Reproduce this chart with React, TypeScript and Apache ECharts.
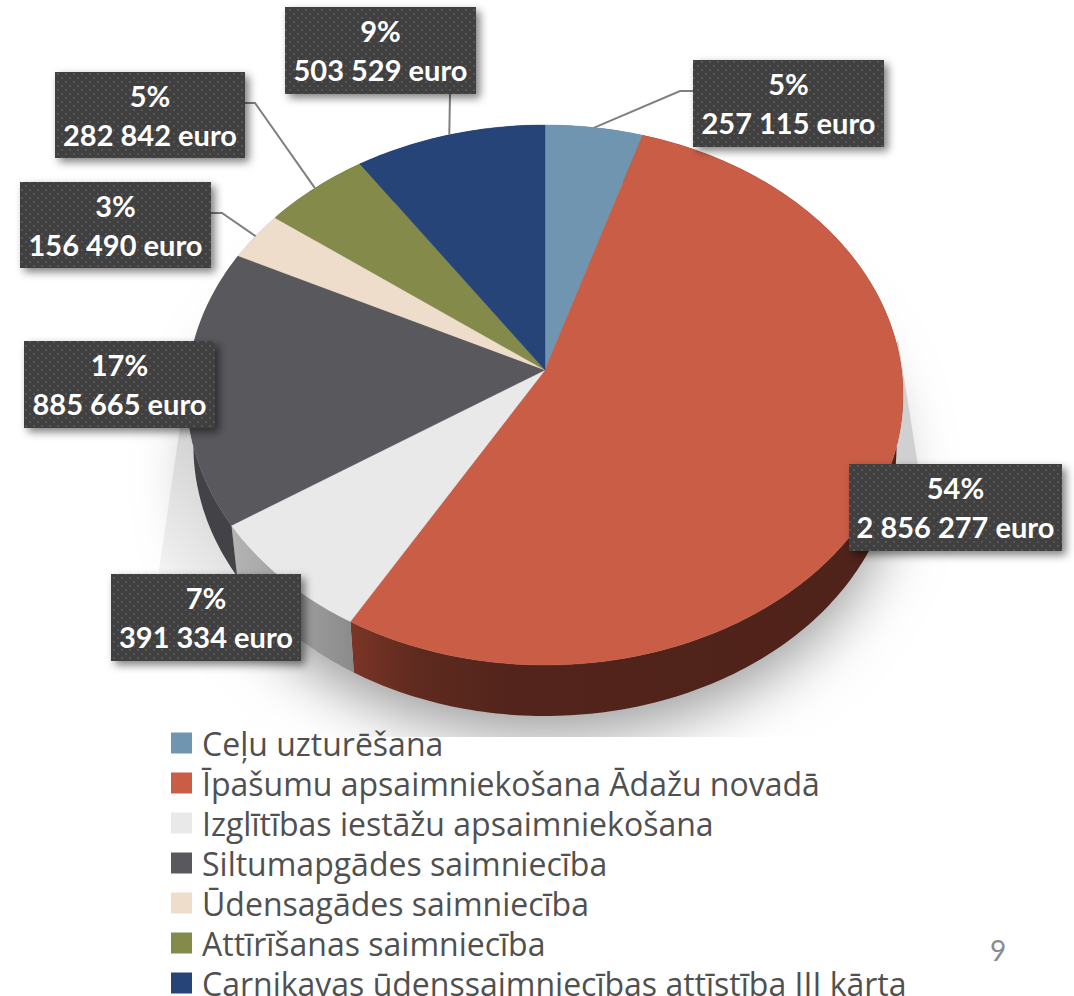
import React, { useEffect, useRef } from "react";
import * as echarts from "echarts";

const categories = [
  "Ceļu uzturēšana",
  "Īpašumu apsaimniekošana Ādažu novadā",
  "Izglītības iestāžu apsaimniekošana",
  "Siltumapgādes saimniecība",
  "Ūdensagādes saimniecība",
  "Attīrīšanas saimniecība",
  "Carnikavas ūdenssaimniecības attīstība III kārta",
];
const values = [257115, 2856277, 391334, 885665, 156490, 282842, 503529];
const percentLabels = ["5%", "54%", "7%", "17%", "3%", "5%", "9%"];
const valueLabels = [
  "257 115 euro",
  "2 856 277 euro",
  "391 334 euro",
  "885 665 euro",
  "156 490 euro",
  "282 842 euro",
  "503 529 euro",
];
const topColors = ["#7095B0", "#C95D46", "#E9E9E9", "#58585D", "#EFDDCC", "#838A4A", "#264478"];
const wallColors: any[] = [
  "#4f6a7e",
  ["#7B3526", "#5F2A1F", "#52241B", "#4F221A"],
  ["#B4B4B4", "#8B8B8B"],
  "#434347",
  "#a89a8e",
  "#5c6134",
  "#192e53",
];
// label box layout
const boxLayout: any[] = [
  { x: 693, y: 60, w: 191, h: 87, from: [693, 91], elbow: [680, 91] },
  { x: 849, y: 464, w: 213, h: 87, from: null, elbow: null },
  { x: 111, y: 574, w: 190, h: 87, from: null, elbow: null },
  { x: 24, y: 341, w: 191, h: 87, from: null, elbow: null },
  { x: 20, y: 182, w: 191, h: 86, from: [211, 213], elbow: [222, 213] },
  { x: 55, y: 72, w: 190, h: 86, from: [245, 103], elbow: [255, 103] },
  { x: 285, y: 7, w: 191, h: 87, from: [450, 94], elbow: null },
];

const CX = 545;
const CY = 370;
const K = -50 / 540;
const A = 245 * (1 - K);
const B = 358 * Math.sqrt(1 - K * K);
const DEPTH = 51;
const SHRINK = 0.982;
const total = values.reduce((s, v) => s + v, 0);

function project(deg: number): [number, number] {
  const t = (deg * Math.PI) / 180;
  const X = Math.sin(t);
  const Y = -Math.cos(t);
  const d = 1 + K * Y;
  return [CX + (B * X) / d, CY + (A * Y) / d];
}

function dotPattern() {
  const c = document.createElement("canvas");
  c.width = 8;
  c.height = 8;
  const g = c.getContext("2d")!;
  g.fillStyle = "#3f3f3f";
  g.fillRect(0, 0, 8, 8);
  g.fillStyle = "#565656";
  g.fillRect(1, 1, 2, 2);
  g.fillRect(5, 5, 2, 2);
  return c;
}

export default function App() {
  const ref = useRef<HTMLDivElement>(null);
  useEffect(() => {
    const chart = echarts.init(ref.current!, undefined, { renderer: "svg" });
    const pattern = { image: dotPattern(), repeat: "repeat" };
    let acc = 0;
    const series = categories.map((name, i) => {
      const a0 = (acc / total) * 360;
      acc += values[i];
      const a1 = (acc / total) * 360;
      const steps = Math.max(2, Math.ceil(a1 - a0));
      const rim: [number, number][] = [];
      for (let s = 0; s <= steps; s++) rim.push(project(a0 + ((a1 - a0) * s) / steps));
      const low = rim.map(([x, y]) => [CX + (x - CX) * SHRINK, y + DEPTH]);
      const wc = wallColors[i];
      const wallFill = Array.isArray(wc)
        ? {
            type: "linear",
            x: 0,
            y: 0,
            x2: 1,
            y2: 0,
            colorStops: wc.map((color: string, k: number) => ({
              offset: wc.length === 2 ? k : [0, 0.12, 0.3, 1][k],
              color,
            })),
          }
        : wc;
      const box = boxLayout[i];
      const end = project((a0 + a1) / 2);
      return {
        type: "custom",
        name,
        coordinateSystem: "none",
        silent: true,
        data: [values[i]],
        itemStyle: { color: topColors[i] },
        renderItem: () => {
          const children: any[] = [
            {
              type: "polygon",
              z2: 1,
              shape: { points: [...rim, ...[...low].reverse()] },
              style: { fill: wallFill, stroke: null },
            },
            {
              type: "polygon",
              z2: 10,
              shape: { points: [[CX, CY], ...rim] },
              style: { fill: topColors[i], stroke: topColors[i], lineWidth: 0.4 },
            },
          ];
          if (box.from) {
            const pts = box.elbow ? [box.from, box.elbow, end] : [box.from, end];
            children.push({
              type: "polyline",
              z2: 20,
              shape: { points: pts },
              style: { fill: null, stroke: "#7f7f7f", lineWidth: 2 },
            });
          }
          children.push({
            type: "rect",
            z2: 30,
            shape: { x: box.x, y: box.y, width: box.w, height: box.h },
            style: {
              fill: pattern,
              shadowBlur: 8,
              shadowColor: "rgba(0,0,0,0.5)",
              shadowOffsetX: 4,
              shadowOffsetY: 4,
            },
          });
          [percentLabels[i], valueLabels[i]].forEach((text, k) => {
            children.push({
              type: "text",
              z2: 40,
              style: {
                x: box.x + box.w / 2,
                y: box.y + 23.5 + k * 39,
                text,
                fill: "#ffffff",
                font: 'bold 29px Lato, "Open Sans", sans-serif',
                align: "center",
                verticalAlign: "middle",
              },
            });
          });
          return { type: "group", children };
        },
      };
    });

    chart.setOption({
      animation: false,
      backgroundColor: "#ffffff",
      legend: {
        show: true,
        orient: "vertical",
        left: 171,
        top: 727,
        height: 300,
        padding: 0,
        icon: "rect",
        itemWidth: 21,
        itemHeight: 21,
        itemGap: 8,
        selectedMode: false,
        data: categories,
        textStyle: {
          fontFamily: '"Open Sans", Lato, sans-serif',
          fontSize: 32,
          lineHeight: 32,
          color: "#505050",
          padding: [0, 0, 0, 5],
        },
      },
      graphic: {
        elements: [
          {
            type: "ellipse",
            z: 0,
            silent: true,
            shape: { cx: 545, cy: 446, rx: 346, ry: 262 },
            style: {
              fill: "#c4c4c4",
              shadowBlur: 60,
              shadowColor: "#9c9c9c",
              shadowOffsetY: 28,
            },
          },
          {
            type: "polygon",
            z: 0,
            silent: true,
            shape: { points: [[898, 340], [918, 466], [900, 530], [820, 500]] },
            style: { fill: "#d0d0d0" },
          },
          {
            type: "polygon",
            z: 0,
            silent: true,
            shape: { points: [[184, 400], [156, 590], [300, 610], [300, 400]] },
            style: {
              fill: {
                type: "linear",
                x: 0,
                y: 1,
                x2: 0.5,
                y2: 0.35,
                colorStops: [
                  { offset: 0, color: "#ffffff" },
                  { offset: 0.35, color: "#ececec" },
                  { offset: 1, color: "#d2d2d2" },
                ],
              },
            },
          },
          {
            type: "rect",
            z: 1,
            silent: true,
            shape: { x: 0, y: 737, width: 1074, height: 259 },
            style: { fill: "#ffffff" },
          },
          {
            type: "text",
            z: 5,
            silent: true,
            style: {
              x: 990,
              y: 950,
              text: "9",
              fill: "#8b8b8b",
              font: '28px Lato, "Open Sans", sans-serif',
              verticalAlign: "middle",
            },
          },
        ],
      },
      series,
    });
    return () => chart.dispose();
  }, []);
  return <div ref={ref} style={{ position: "fixed", left: 0, top: 0, width: 1074, height: 996 }} />;
}
